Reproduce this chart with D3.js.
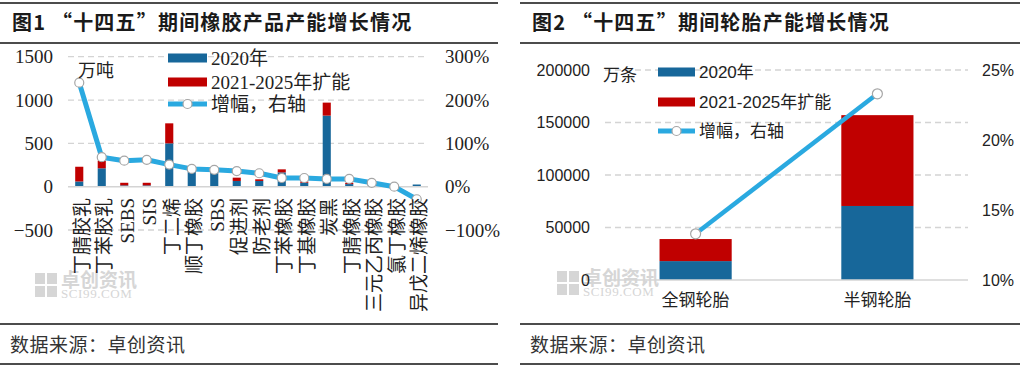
<!DOCTYPE html>
<html>
<head>
<meta charset="utf-8">
<script src="https://cdn.jsdelivr.net/npm/d3@7.9.0/dist/d3.min.js"></script>
<style>
  body { margin: 0; background: #fff; }
  svg { display: block; }
</style>
</head>
<body>
<svg id="chart" width="1023" height="368"></svg>
<script>
// ----- data: rubber products (fig 1) -----
const rubberCats = ["丁腈胶乳", "丁苯胶乳", "SEBS", "SIS", "丁二烯", "顺丁橡胶", "SBS", "促进剂",
  "防老剂", "丁苯橡胶", "丁基橡胶", "炭黑", "丁腈橡胶", "三元乙丙橡胶", "氯丁橡胶", "异戊二烯橡胶"];
const rubber2020 = [60, 212, 15, 15, 500, 173, 160, 66, 66, 165, 45, 820, 30, 25, 20, 25];
const rubberAdd = [170, 88, 30, 30, 231, 5, 5, 38, 19, 35, 15, 150, 15, 5, 5, 0];
const rubberGrowth = [2.40, 0.68, 0.60, 0.62, 0.51, 0.41, 0.39, 0.36, 0.31, 0.20, 0.20, 0.18, 0.18, 0.09, 0.0, -0.29];
const rubberTicks = [-500, 0, 500, 1000, 1500];
const rubberPctTicks = [-1, 0, 1, 2, 3];

// ----- data: tyres (fig 2) -----
const tireCats = ["全钢轮胎", "半钢轮胎"];
const tire2020 = [18000, 70500];
const tireAdd = [21000, 86500];
const tireGrowth = [0.133, 0.233];
const tireTicks = [0, 50000, 100000, 150000, 200000];
const tirePctTicks = [0.10, 0.15, 0.20, 0.25];

const legendLabels = ["2020年", "2021-2025年扩能", "增幅，右轴"];

const BLUE = "#17679a", RED = "#c00000", LINE = "#2aa9e0", GRID = "#d4d4d4";
const serif = "'Liberation Serif', 'Noto Sans CJK SC', serif";
const sans = "'Liberation Sans', 'Noto Sans CJK SC', sans-serif";
const cjk = "'Noto Sans CJK SC', sans-serif";

const svg = d3.select("#chart");

// ===== frame: titles, rules, source =====
function frame(x0, x1, title) {
  [3, 43, 324, 364].forEach(y => {
    svg.append("line").attr("x1", x0).attr("x2", x1).attr("y1", y).attr("y2", y)
      .attr("stroke", "#111").attr("stroke-width", 1.3);
  });
  svg.append("text").attr("x", x0 + 12).attr("y", 30)
    .attr("font-family", cjk).attr("font-size", "20px").attr("font-weight", "bold")
    .attr("fill", "#1a1a1a").attr("letter-spacing", "1.2px")
    .text(title);
  svg.append("text").attr("x", x0 + 10).attr("y", 352)
    .attr("font-family", cjk).attr("font-size", "19px").attr("fill", "#333")
    .attr("letter-spacing", "0.5px")
    .text("数据来源：卓创资讯");
}
frame(0, 498, "图1 “十四五”期间橡胶产品产能增长情况");
frame(520, 1020, "图2 “十四五”期间轮胎产能增长情况");

// watermark
function watermark(x, y) {
  const g = svg.append("g").attr("transform", `translate(${x},${y})`).attr("fill", "#d6d6d6");
  [[0, 0], [12, 0], [0, 13], [12, 13]].forEach(([dx, dy]) => {
    g.append("rect").attr("x", dx).attr("y", dy).attr("width", 10).attr("height", 11);
  });
  g.append("text").attr("x", 26).attr("y", 14).attr("font-family", cjk)
    .attr("font-size", "19px").attr("font-weight", "bold").text("卓创资讯");
  g.append("text").attr("x", 26).attr("y", 25).attr("font-family", serif)
    .attr("font-size", "13px").attr("letter-spacing", "0.6px").text("SCI99.COM");
}
watermark(35, 273);
watermark(557, 271);

// ===== FIG 1 =====
const x1 = d3.scaleBand().domain(rubberCats).range([68, 428]).paddingInner(0.64).paddingOuter(0.32);
const y1 = d3.scaleLinear().domain([-500, 1500]).range([230, 56.7]);
const y1r = d3.scaleLinear().domain([-1, 3]).range([230, 56.7]);

const g1 = svg.append("g");
rubberTicks.filter(d => d !== 0).forEach(d => {
  g1.append("line").attr("x1", 68).attr("x2", 428).attr("y1", y1(d)).attr("y2", y1(d))
    .attr("stroke", GRID).attr("stroke-width", 1.3).attr("stroke-dasharray", "6 4");
});

const axisL1 = g1.append("g").attr("transform", "translate(58,0)")
  .call(d3.axisLeft(y1).tickValues(rubberTicks).tickSize(0).tickPadding(5).tickFormat(d3.format("d")));
const axisR1 = g1.append("g").attr("transform", "translate(440,0)")
  .call(d3.axisRight(y1r).tickValues(rubberPctTicks).tickSize(0).tickPadding(5).tickFormat(d3.format(".0%")));
[axisL1, axisR1].forEach(a => {
  a.select(".domain").remove();
  a.selectAll("text").attr("font-family", serif).attr("font-size", "19px").attr("fill", "#222");
});

const stack1 = rubberCats.map((c, i) => ({ c, a: rubber2020[i], b: rubberAdd[i] }));
g1.selectAll(".b1").data(stack1).enter().append("rect")
  .attr("x", d => x1(d.c)).attr("width", x1.bandwidth())
  .attr("y", d => y1(d.a)).attr("height", d => y1(0) - y1(d.a)).attr("fill", BLUE);
g1.selectAll(".r1").data(stack1).enter().append("rect")
  .attr("x", d => x1(d.c)).attr("width", x1.bandwidth())
  .attr("y", d => y1(d.a + d.b)).attr("height", d => y1(d.a) - y1(d.a + d.b)).attr("fill", RED);

g1.append("line").attr("x1", 68).attr("x2", 428).attr("y1", y1(0)).attr("y2", y1(0))
  .attr("stroke", GRID).attr("stroke-width", 1.5);

const pts1 = rubberCats.map((c, i) => [x1(c) + x1.bandwidth() / 2, y1r(rubberGrowth[i])]);
g1.append("path").attr("d", d3.line()(pts1)).attr("fill", "none")
  .attr("stroke", LINE).attr("stroke-width", 5).attr("stroke-linejoin", "round");
g1.selectAll(".m1").data(pts1).enter().append("circle")
  .attr("cx", d => d[0]).attr("cy", d => d[1]).attr("r", 4.5)
  .attr("fill", "#fff").attr("stroke", "#a6a6a6").attr("stroke-width", 1.2);

// rotated category labels, clipped at the bottom like the original
svg.append("clipPath").attr("id", "clip1").append("rect")
  .attr("x", 0).attr("y", 190).attr("width", 500).attr("height", 122);
const lab1 = g1.append("g").attr("clip-path", "url(#clip1)");
rubberCats.forEach(c => {
  lab1.append("text")
    .attr("transform", `translate(${x1(c) + x1.bandwidth() / 2 + 3},198) rotate(-90)`)
    .attr("text-anchor", "end").attr("dominant-baseline", "central")
    .attr("font-family", serif).attr("font-size", "19px").attr("fill", "#222")
    .text(c);
});

g1.append("text").attr("x", 78).attr("y", 77).attr("font-family", cjk)
  .attr("font-size", "18px").attr("fill", "#222").text("万吨");

// legend, shared by both figures
function legend(g, x, ys, sw, fontFam, fs) {
  g.append("rect").attr("x", x).attr("y", ys[0] - 4.5).attr("width", sw).attr("height", 9).attr("fill", BLUE);
  g.append("rect").attr("x", x).attr("y", ys[1] - 4.5).attr("width", sw).attr("height", 9).attr("fill", RED);
  g.append("line").attr("x1", x).attr("x2", x + sw).attr("y1", ys[2]).attr("y2", ys[2])
    .attr("stroke", LINE).attr("stroke-width", 5);
  g.append("circle").attr("cx", x + sw / 2).attr("cy", ys[2]).attr("r", 4.5)
    .attr("fill", "#fff").attr("stroke", "#a6a6a6").attr("stroke-width", 1.2);
  legendLabels.forEach((t, i) => {
    g.append("text").attr("x", x + sw + 4).attr("y", ys[i]).attr("dominant-baseline", "central")
      .attr("font-family", fontFam).attr("font-size", fs).attr("fill", "#222").text(t);
  });
}
legend(g1, 168, [58, 82, 104], 39, serif, "19px");

// ===== FIG 2 =====
const x2 = d3.scaleBand().domain(tireCats).range([605, 968]).paddingInner(0.603).paddingOuter(0.3);
const y2 = d3.scaleLinear().domain([0, 200000]).range([280, 70]);
const y2r = d3.scaleLinear().domain([0.10, 0.25]).range([280, 70]);

const g2 = svg.append("g");
tireTicks.filter(d => d !== 0).forEach(d => {
  g2.append("line").attr("x1", 605).attr("x2", 968).attr("y1", y2(d)).attr("y2", y2(d))
    .attr("stroke", GRID).attr("stroke-width", 1.3).attr("stroke-dasharray", "6 4");
});

const axisL2 = g2.append("g").attr("transform", "translate(595,0)")
  .call(d3.axisLeft(y2).tickValues(tireTicks).tickSize(0).tickPadding(5).tickFormat(d3.format("d")));
const axisR2 = g2.append("g").attr("transform", "translate(977,0)")
  .call(d3.axisRight(y2r).tickValues(tirePctTicks).tickSize(0).tickPadding(5).tickFormat(d3.format(".0%")));
[axisL2, axisR2].forEach(a => {
  a.select(".domain").remove();
  a.selectAll("text").attr("font-family", sans).attr("font-size", "16px").attr("fill", "#222");
});

const stack2 = tireCats.map((c, i) => ({ c, a: tire2020[i], b: tireAdd[i] }));
g2.selectAll(".b2").data(stack2).enter().append("rect")
  .attr("x", d => x2(d.c)).attr("width", x2.bandwidth())
  .attr("y", d => y2(d.a)).attr("height", d => y2(0) - y2(d.a)).attr("fill", BLUE);
g2.selectAll(".r2").data(stack2).enter().append("rect")
  .attr("x", d => x2(d.c)).attr("width", x2.bandwidth())
  .attr("y", d => y2(d.a + d.b)).attr("height", d => y2(d.a) - y2(d.a + d.b)).attr("fill", RED);

g2.append("line").attr("x1", 605).attr("x2", 968).attr("y1", y2(0)).attr("y2", y2(0))
  .attr("stroke", GRID).attr("stroke-width", 1.5);

const pts2 = tireCats.map((c, i) => [x2(c) + x2.bandwidth() / 2, y2r(tireGrowth[i])]);
g2.append("path").attr("d", d3.line()(pts2)).attr("fill", "none")
  .attr("stroke", LINE).attr("stroke-width", 4.5);
g2.selectAll(".m2").data(pts2).enter().append("circle")
  .attr("cx", d => d[0]).attr("cy", d => d[1]).attr("r", 5)
  .attr("fill", "#fff").attr("stroke", "#a6a6a6").attr("stroke-width", 1.2);

g2.append("g").attr("transform", "translate(0,280)")
  .call(d3.axisBottom(x2).tickSize(0).tickPadding(14))
  .call(a => a.select(".domain").remove())
  .selectAll("text").attr("font-family", cjk).attr("font-size", "17px").attr("fill", "#222");

g2.append("text").attr("x", 603).attr("y", 81).attr("font-family", cjk)
  .attr("font-size", "17px").attr("fill", "#222").text("万条");

legend(g2, 658, [72, 102, 131], 37, sans, "17px");
</script>
</body>
</html>
